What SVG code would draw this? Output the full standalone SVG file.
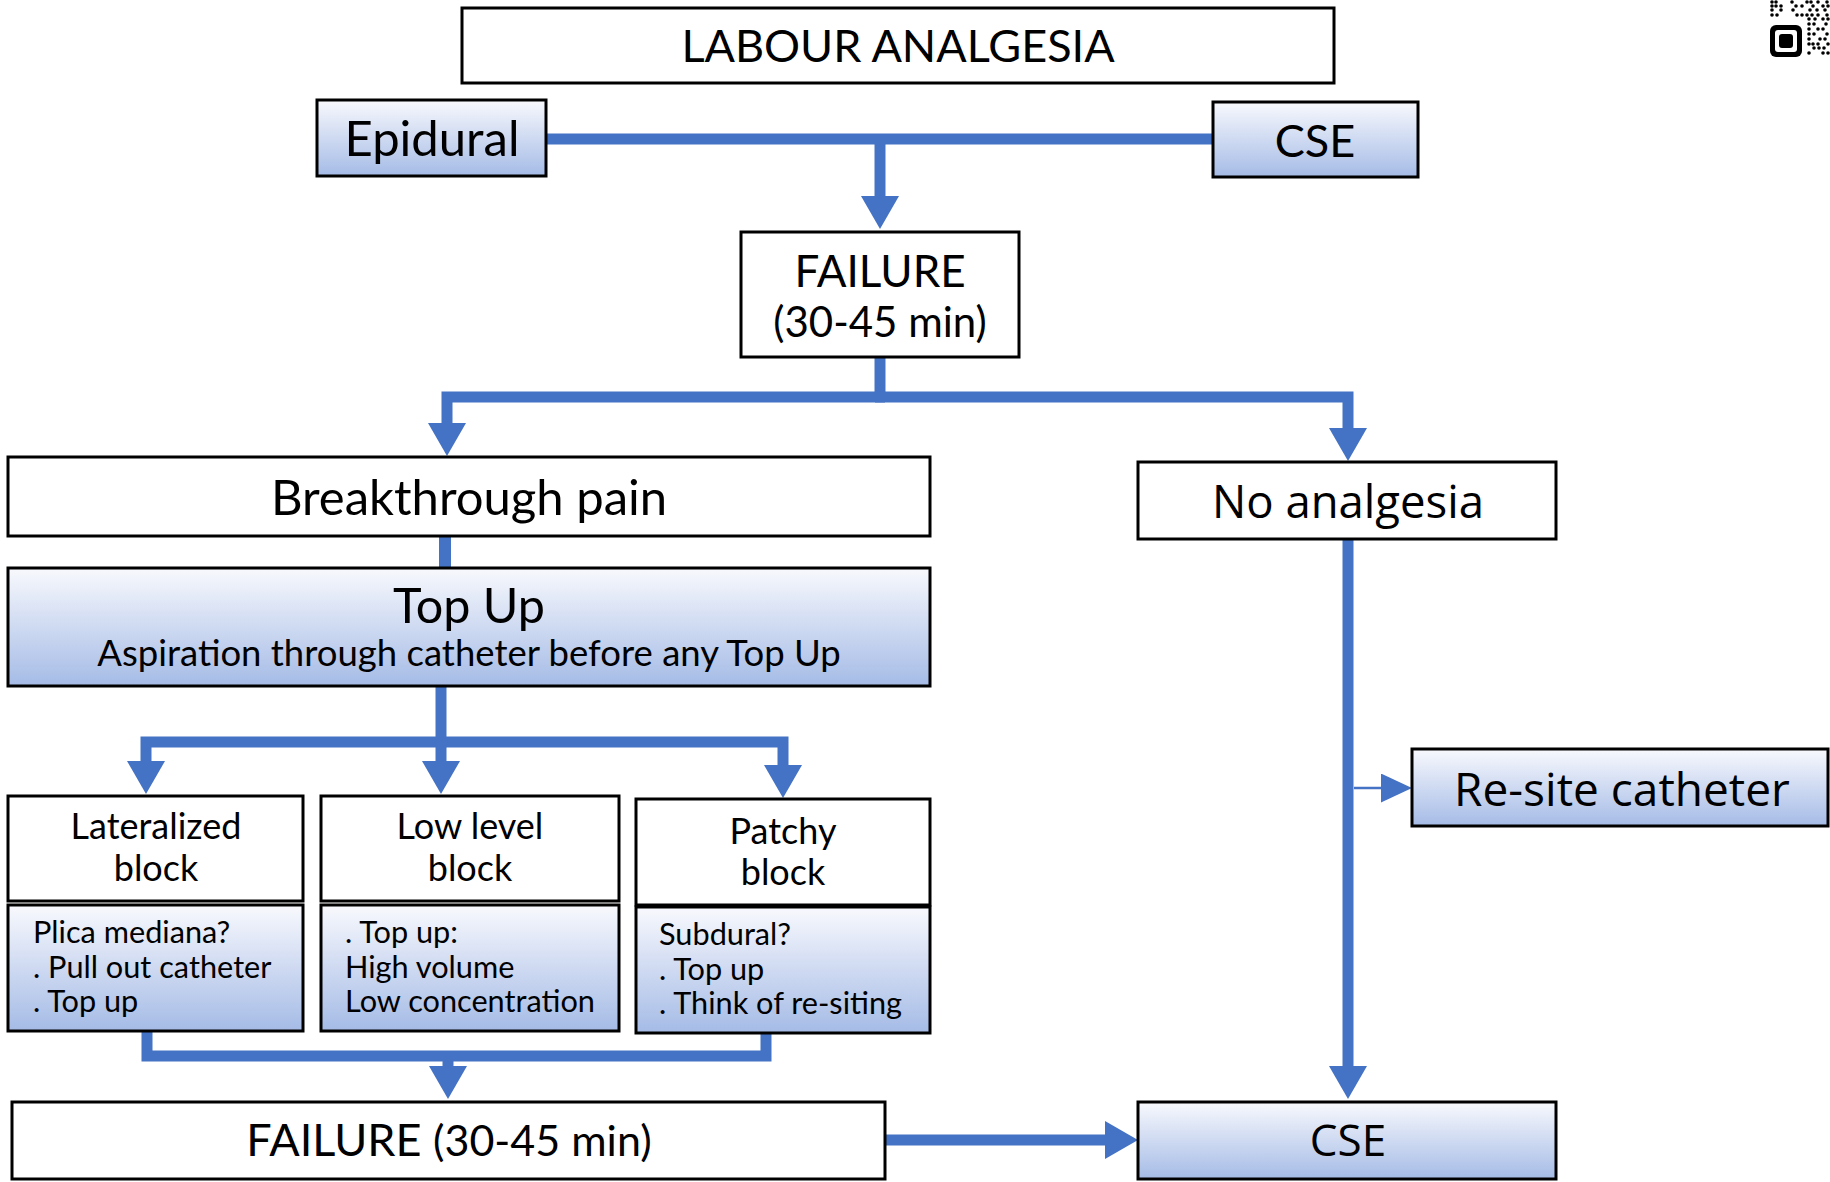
<svg xmlns="http://www.w3.org/2000/svg" width="1830" height="1182" viewBox="0 0 1830 1182">
<defs>
<linearGradient id="g" x1="0" y1="0" x2="0" y2="1">
<stop offset="0" stop-color="#f8f9fd"/>
<stop offset="1" stop-color="#a5bbe6"/>
</linearGradient>
<marker id="ah" viewBox="0 0 33 38" refX="0" refY="19" markerWidth="33" markerHeight="38" markerUnits="userSpaceOnUse" orient="auto">
<path d="M0,0 L33,19 L0,38 Z" fill="#4472c4"/>
</marker>
<marker id="ahs" viewBox="0 0 31 29" refX="0" refY="14.5" markerWidth="31" markerHeight="29" markerUnits="userSpaceOnUse" orient="auto">
<path d="M0,0 L31,14.5 L0,29 Z" fill="#4472c4"/>
</marker>
</defs>
<style>
.box{fill:#ffffff;stroke:#000;stroke-width:3}
.gbox{fill:url(#g);stroke:#000;stroke-width:3}
.c{fill:#000;font-family:Lato,"Liberation Sans",sans-serif;text-anchor:middle}
.s{fill:#000;font-family:"Open Sans","Noto Sans",sans-serif;text-anchor:middle}
.l{fill:#000;font-family:Lato,"Liberation Sans",sans-serif;font-size:30.7px}
.ln{fill:none;stroke:#4472c4;stroke-width:11}
.ar{fill:none;stroke:#4472c4;stroke-width:11;marker-end:url(#ah)}
</style>
<rect width="1830" height="1182" fill="#ffffff"/>

<g id="connectors">
<path class="ln" d="M546,139 H1213"/>
<path class="ar" d="M880,139 V196"/>
<path class="ln" d="M880,357 V397"/>
<path class="ar" d="M885,397 H447 V423"/>
<path class="ar" d="M875,397 H1348 V428"/>
<path class="ln" d="M445,536 V568" style="stroke-width:12"/>
<path class="ln" d="M441,686 V742"/>
<path class="ar" d="M446,742 H146 V761"/>
<path class="ar" d="M441,742 V761"/>
<path class="ar" d="M436,742 H783 V765"/>
<path class="ln" d="M147,1025 V1056 H766 V1033"/>
<path class="ar" d="M448,1056 V1066"/>
<path class="ar" d="M885,1140 H1105"/>
<path class="ar" d="M1348,539 V1066"/>
<path d="M1354,788 H1381" fill="none" stroke="#4472c4" stroke-width="2.5" marker-end="url(#ahs)"/>
</g>

<g id="title">
<rect class="box" x="462" y="8" width="872" height="75"/>
<text class="c" x="898" y="62" font-size="45">LABOUR ANALGESIA</text>
</g>
<g id="epidural">
<rect class="gbox" x="317" y="100" width="229" height="76"/>
<text class="c" x="432" y="156" font-size="49">Epidural</text>
</g>
<g id="cse-top">
<rect class="gbox" x="1213" y="102" width="205" height="75"/>
<text class="c" x="1315" y="157" font-size="45">CSE</text>
</g>
<g id="failure-1">
<rect class="box" x="741" y="232" width="278" height="125"/>
<text class="c" x="880" y="287" font-size="44">FAILURE</text>
<text class="c" x="880" y="337" font-size="42">(30-45 min)</text>
</g>
<g id="breakthrough">
<rect class="box" x="8" y="457" width="922" height="79"/>
<text class="c" x="469" y="515" font-size="49">Breakthrough pain</text>
</g>
<g id="topup">
<rect class="gbox" x="8" y="568" width="922" height="118"/>
<text class="c" x="469" y="623" font-size="48.5">Top Up</text>
<text class="c" x="469" y="666" font-size="36.5">Aspiration through catheter before any Top Up</text>
</g>
<g id="lateralized">
<rect class="box" x="8" y="796" width="295" height="105"/>
<text class="c" x="156" y="839" font-size="36">Lateralized</text>
<text class="c" x="156" y="881" font-size="36">block</text>
</g>
<g id="lateralized-detail">
<rect class="gbox" x="8" y="905" width="295" height="126"/>
<text class="l" x="33" y="943">Plica mediana?</text>
<text class="l" x="33" y="978">. Pull out catheter</text>
<text class="l" x="33" y="1012">. Top up</text>
</g>
<g id="lowlevel">
<rect class="box" x="321" y="796" width="298" height="105"/>
<text class="c" x="470" y="839" font-size="36">Low level</text>
<text class="c" x="470" y="881" font-size="36">block</text>
</g>
<g id="lowlevel-detail">
<rect class="gbox" x="321" y="905" width="298" height="126"/>
<text class="l" x="345" y="943">. Top up:</text>
<text class="l" x="345" y="978">High volume</text>
<text class="l" x="345" y="1012">Low concentration</text>
</g>
<g id="patchy">
<rect class="box" x="636" y="799" width="294" height="106"/>
<text class="c" x="783" y="844" font-size="36">Patchy</text>
<text class="c" x="783" y="885" font-size="36">block</text>
</g>
<g id="patchy-detail">
<rect class="gbox" x="636" y="907" width="294" height="126"/>
<text class="l" x="659" y="945">Subdural?</text>
<text class="l" x="659" y="980">. Top up</text>
<text class="l" x="659" y="1014">. Think of re-siting</text>
</g>
<g id="failure-2">
<rect class="box" x="12" y="1102" width="873" height="77"/>
<text class="c" x="449" y="1156" font-size="45">FAILURE <tspan font-size="43">(30-45 min)</tspan></text>
</g>
<g id="no-analgesia">
<rect class="box" x="1138" y="462" width="418" height="77"/>
<text class="s" x="1348" y="518" font-size="45.5">No analgesia</text>
</g>
<g id="resite">
<rect class="gbox" x="1412" y="749" width="416" height="77"/>
<text class="s" x="1622" y="806" font-size="46">Re-site catheter</text>
</g>
<g id="cse-bottom">
<rect class="gbox" x="1138" y="1102" width="418" height="77"/>
<text class="s" x="1348" y="1156" font-size="44">CSE</text>
</g>

<g id="qr" fill="#000">
<rect x="1770" y="25" width="32" height="32" rx="6"/>
<rect x="1775" y="30" width="22" height="22" rx="3" fill="#fff"/>
<rect x="1779" y="34" width="14" height="14" rx="3"/>
<circle cx="1772" cy="2" r="1.8"/><circle cx="1776" cy="2" r="1.8"/><circle cx="1792" cy="2" r="1.8"/><circle cx="1807" cy="2" r="1.8"/><circle cx="1811" cy="2" r="1.8"/><circle cx="1818" cy="2" r="1.8"/><circle cx="1827" cy="2" r="1.8"/>
<circle cx="1772" cy="6" r="1.8"/><circle cx="1776" cy="6" r="1.8"/><circle cx="1781" cy="6" r="1.8"/><circle cx="1796" cy="6" r="1.8"/><circle cx="1802" cy="6" r="1.8"/><circle cx="1813" cy="6" r="1.8"/><circle cx="1823" cy="6" r="1.8"/><circle cx="1828" cy="6" r="1.8"/>
<circle cx="1772" cy="10" r="1.8"/><circle cx="1781" cy="10" r="1.8"/><circle cx="1793" cy="10" r="1.8"/><circle cx="1810" cy="10" r="1.8"/><circle cx="1817" cy="10" r="1.8"/><circle cx="1825" cy="10" r="1.8"/>
<circle cx="1772" cy="15" r="1.8"/><circle cx="1777" cy="15" r="1.8"/><circle cx="1797" cy="15" r="1.8"/><circle cx="1802" cy="15" r="1.8"/><circle cx="1807" cy="15" r="1.8"/><circle cx="1812" cy="15" r="1.8"/><circle cx="1818" cy="15" r="1.8"/><circle cx="1827" cy="15" r="1.8"/>
<circle cx="1809" cy="19" r="1.8"/><circle cx="1815" cy="19" r="1.8"/><circle cx="1823" cy="19" r="1.8"/><circle cx="1828" cy="19" r="1.8"/>
<circle cx="1809" cy="24" r="1.8"/><circle cx="1814" cy="24" r="1.8"/><circle cx="1826" cy="24" r="1.8"/>
<circle cx="1809" cy="29" r="1.8"/><circle cx="1818" cy="29" r="1.8"/><circle cx="1823" cy="29" r="1.8"/>
<circle cx="1809" cy="34" r="1.8"/><circle cx="1814" cy="34" r="1.8"/><circle cx="1827" cy="34" r="1.8"/>
<circle cx="1809" cy="39" r="1.8"/><circle cx="1820" cy="39" r="1.8"/><circle cx="1825" cy="39" r="1.8"/>
<circle cx="1809" cy="44" r="1.8"/><circle cx="1813" cy="44" r="1.8"/><circle cx="1818" cy="44" r="1.8"/><circle cx="1828" cy="44" r="1.8"/>
<circle cx="1814" cy="48" r="1.8"/><circle cx="1819" cy="48" r="1.8"/><circle cx="1824" cy="48" r="1.8"/>
<circle cx="1809" cy="53" r="1.8"/><circle cx="1823" cy="53" r="1.8"/><circle cx="1828" cy="53" r="1.8"/>
</g>
</svg>
